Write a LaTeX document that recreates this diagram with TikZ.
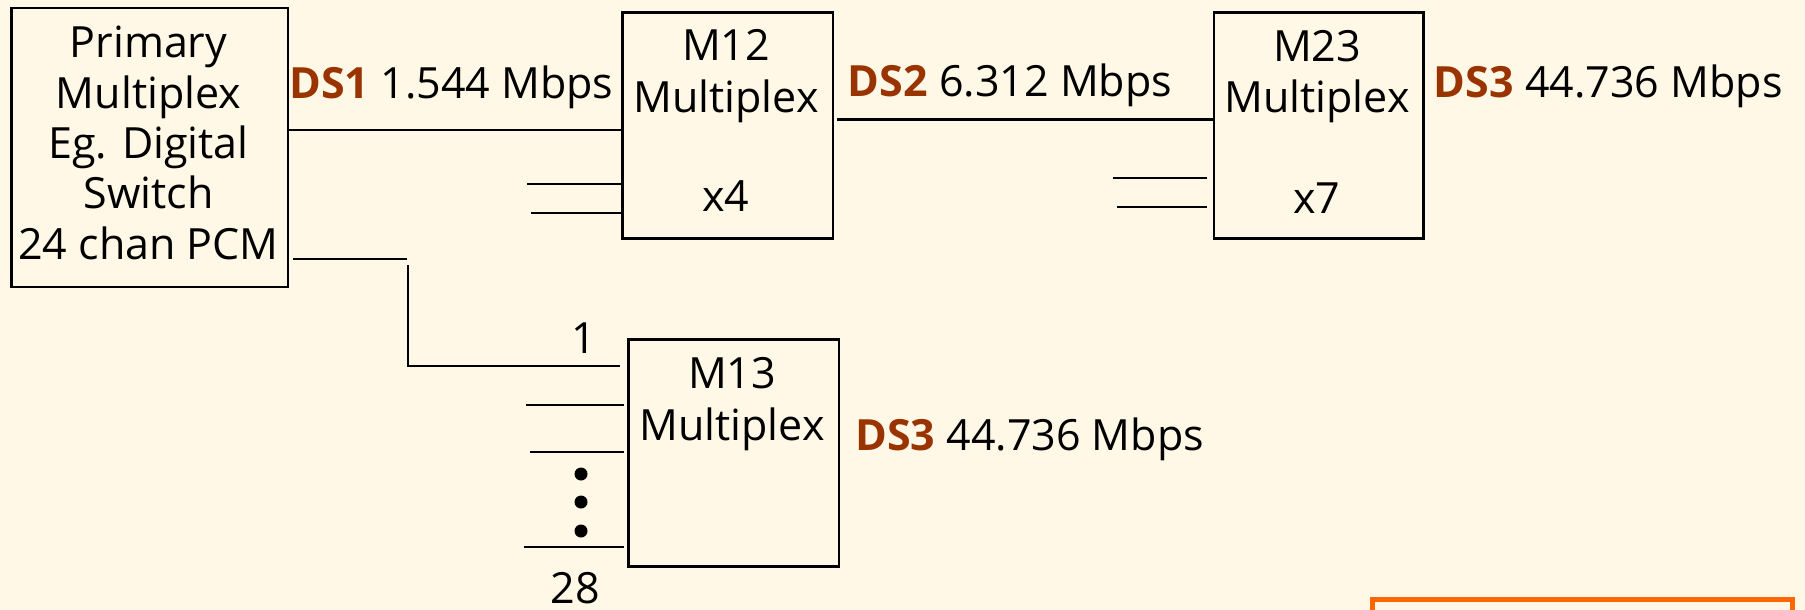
\documentclass[tikz,border=0pt]{standalone}
\usepackage{fontspec}
\setmainfont{Open Sans}
\definecolor{bg}{HTML}{FFF8E6}
\definecolor{dslab}{HTML}{993300}
\definecolor{orng}{HTML}{FF6600}
\begin{document}
\begin{tikzpicture}[x=1pt,y=-1pt,
  box/.style={draw, line width=2.5pt, anchor=north west, inner sep=0pt},
  txt/.style={anchor=base, font=\fontsize{43}{50}\selectfont, inner sep=0pt},
  lab/.style={anchor=base west, font=\fontsize{43}{50}\selectfont, inner sep=0pt},
  wire/.style={line width=2.2pt},
  dot/.style={circle, fill=black, inner sep=0pt, minimum size=13pt}]
\path[use as bounding box, fill=bg] (0,0) rectangle (1805,610);
\clip (0,0) rectangle (1805,610);
% boxes
\node[box, minimum width=276.3pt, minimum height=278.5pt] (prim) at (10.4,7) {};
\node[box, minimum width=210.5pt, minimum height=225.5pt] (m12) at (621,11.5) {};
\node[box, minimum width=209.5pt, minimum height=225.5pt] (m23) at (1212.5,11.5) {};
\node[box, minimum width=210.5pt, minimum height=227pt] (m13) at (627,338) {};
\node[draw=orng, line width=5pt, anchor=north west, inner sep=0pt, minimum width=419.5pt, minimum height=100pt] (obox) at (1370,597) {};
% box texts
\node[txt] (p1) at (148.5,58) {Primary};
\node[txt] (p2) at (148.5,108) {Multiplex};
\node[txt] (p3) at (148.5,158) {Eg. Digital};
\node[txt] (p4) at (148.5,208.5) {Switch};
\node[txt] (p5) at (148.5,259) {24 chan PCM};
\node[txt] (a1) at (726,61) {M12};
\node[txt] (a2) at (726,112) {Multiplex};
\node[txt] (a3) at (726,211) {x4};
\node[txt] (b1) at (1317,61.7) {M23};
\node[txt] (b2) at (1317,112.7) {Multiplex};
\node[txt] (b3) at (1317,213) {x7};
\node[txt] (c1) at (732,388) {M13};
\node[txt] (c2) at (732,440.7) {Multiplex};
% rate labels
\node[lab] (ds1) at (289,99) {{\bfseries\color{dslab}DS1} 1.544 Mbps};
\node[lab] (ds2) at (847.7,96) {{\bfseries\color{dslab}DS2} 6.312 Mbps};
\node[lab] (ds3a) at (1433.6,98) {{\bfseries\color{dslab}DS3} 44.736 Mbps};
\node[lab] (ds3b) at (855,450) {{\bfseries\color{dslab}DS3} 44.736 Mbps};
\node[txt] (n1) at (584,353) {1};
\node[txt] (n28) at (575,603) {28};
% dots
\node[dot] (d1) at (581,474) {};
\node[dot] (d2) at (581,502) {};
\node[dot] (d3) at (581,531) {};
% wires
\coordinate (w1) at (289,130);
\draw[wire] (w1) -- (w1 -| m12.west);
\coordinate (w2) at (527,184.3);
\draw[wire] (w2) -- (w2 -| m12.west);
\coordinate (w3) at (531,212.7);
\draw[wire] (w3) -- (w3 -| m12.west);
\coordinate (w4) at (836.5,119.5);
\draw[wire] (w4) -- (w4 -| m23.west);
\coordinate (w5) at (1113,178);
\draw[wire] (w5) -- ([xshift=-6pt]w5 -| m23.west);
\coordinate (w6) at (1116.6,207);
\draw[wire] (w6) -- ([xshift=-6pt]w6 -| m23.west);
% lower feed to M13
\coordinate (l1) at (292.5,259);
\coordinate (l2) at (406.6,259);
\coordinate (l3) at (408,265);
\coordinate (l4) at (408,366);
\draw[wire] (l1) -- (l2);
\draw[wire] (l3) -- (l4) -- ([xshift=-7pt]l4 -| m13.west);
\coordinate (s1) at (526,405);
\draw[wire] (s1) -- ([xshift=-3pt]s1 -| m13.west);
\coordinate (s2) at (530,451.7);
\draw[wire] (s2) -- ([xshift=-3pt]s2 -| m13.west);
\coordinate (s3) at (523.5,546.7);
\draw[wire] (s3) -- ([xshift=-3pt]s3 -| m13.west);
\end{tikzpicture}
\end{document}
